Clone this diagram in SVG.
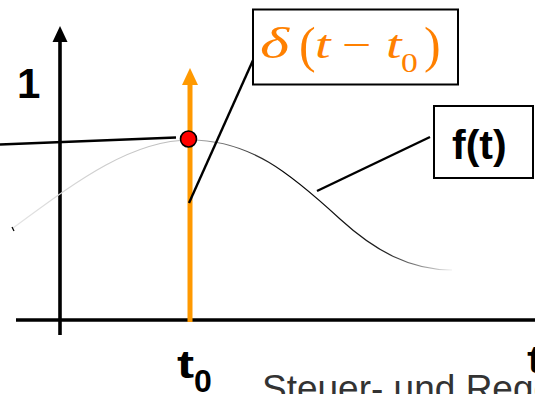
<svg xmlns="http://www.w3.org/2000/svg" width="535" height="394" viewBox="0 0 535 394">
  <style>
    .axis { stroke: #000; stroke-width: 3.6; fill: none; }
    .lead { stroke: #000; stroke-width: 2.4; fill: none; }
    .box { fill: #fff; stroke: #000; stroke-width: 2; }
    .bold { font-family: "Liberation Sans", Arial, sans-serif; font-weight: bold; fill: #000; }
    .math { font-family: "Liberation Serif", "Times New Roman", serif; fill: #FF8000; }
    .it { font-style: italic; }
    .foot { font-family: "Liberation Sans", Arial, sans-serif; fill: #333; font-size: 37px; }
  </style>
  <defs>
    <linearGradient id="curveGrad" gradientUnits="userSpaceOnUse" x1="13" y1="0" x2="452" y2="0">
      <stop offset="0" stop-color="#e4e4e4"/>
      <stop offset="0.4" stop-color="#b8b8b8"/>
      <stop offset="0.62" stop-color="#000"/>
      <stop offset="0.85" stop-color="#222"/>
      <stop offset="1" stop-color="#f0f0f0"/>
    </linearGradient>
  </defs>
  <rect width="535" height="394" fill="#fff"/>

  <g id="axes">
    <line class="axis" x1="60" y1="335" x2="60" y2="40"/>
    <polygon points="60,26 52.5,42 67.5,42" fill="#000"/>
    <line class="axis" x1="16" y1="320" x2="535" y2="320"/>
  </g>

  <g id="curve">
    <path d="M13,228 C73,184 130,140 190,140 C250,140 290,173 340,219 C375,251 410,270 452,270" fill="none" stroke="url(#curveGrad)" stroke-width="1.2"/>
    <line x1="12" y1="227" x2="14" y2="231" stroke="#000" stroke-width="1.3"/>
  </g>

  <g id="impulse">
    <line x1="190" y1="82" x2="190" y2="322" stroke="#FF9900" stroke-width="5"/>
    <polygon points="190,68 182,85 198,85" fill="#FF9900"/>
  </g>

  <g id="connectors">
    <line class="lead" x1="0" y1="144.5" x2="176" y2="137.5"/>
    <line class="lead" x1="254" y1="58" x2="189" y2="203"/>
    <line class="lead" x1="430" y1="137" x2="317" y2="191"/>
  </g>

  <g id="point">
    <circle cx="188.5" cy="139" r="8" fill="#FF0000" stroke="#000" stroke-width="1.6"/>
  </g>

  <g id="delta-label">
    <rect class="box" x="253" y="9.5" width="205" height="75"/>
    <text class="math it" font-size="44" transform="translate(260,58) scale(1.42,1)">δ</text>
    <text class="math" x="299" y="62" font-size="50">(</text>
    <text class="math it" font-size="40" transform="translate(315,58) scale(1.4,1)">t</text>
    <text class="math" font-size="40" transform="translate(342,58) scale(1.3,1)">−</text>
    <text class="math it" font-size="40" transform="translate(386,58) scale(1.4,1)">t</text>
    <text class="math" font-size="28" transform="translate(401,72) scale(1.2,1)">0</text>
    <text class="math" x="424" y="62" font-size="50">)</text>
  </g>

  <g id="f-label">
    <rect class="box" x="434" y="106" width="99" height="72"/>
    <text class="bold" x="452" y="159" font-size="41">f(t)</text>
  </g>

  <g id="one-label">
    <text class="bold" x="17" y="98" font-size="42">1</text>
  </g>

  <g id="t0-label">
    <text class="bold" font-size="38" transform="translate(177,378) scale(1.35,1)">t</text>
    <text class="bold" x="194" y="392" font-size="32">0</text>
  </g>

  <g id="t-label">
    <text class="bold" font-size="38" transform="translate(527,373) scale(1.35,1)">t</text>
  </g>

  <g id="footer">
    <text class="foot" x="262" y="401">Steuer- und Regelungstechnik</text>
  </g>
</svg>
